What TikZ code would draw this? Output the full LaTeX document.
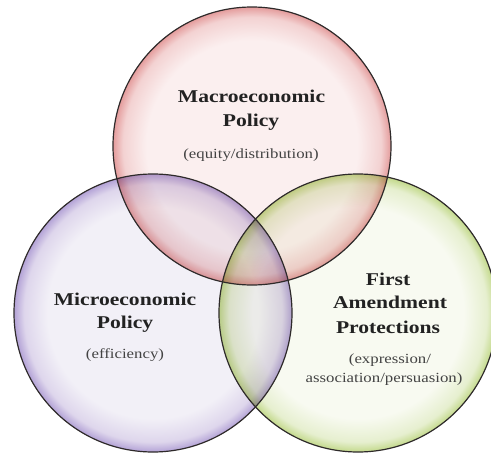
\documentclass[tikz,border=0pt]{standalone}
\usepackage{fontspec}
\setmainfont{Liberation Serif}
\newfontfamily\lblfont[FakeStretch=1.2]{Liberation Serif}
\definecolor{redin}{HTML}{FBEFEF}
\definecolor{redmid}{HTML}{F3D2D2}
\definecolor{redout}{HTML}{E49C9C}
\definecolor{purin}{HTML}{F2F0F7}
\definecolor{purmid}{HTML}{DED6EC}
\definecolor{purout}{HTML}{B3A2D6}
\definecolor{grnin}{HTML}{F8FAF1}
\definecolor{grnmid}{HTML}{E6EFCF}
\definecolor{grnout}{HTML}{C3D98B}
\definecolor{rimline}{HTML}{2E2A2A}
\definecolor{txt}{HTML}{222222}
\pgfdeclareradialshading{redglow}{\pgfpoint{0bp}{0bp}}{color(0bp)=(redin); color(19bp)=(redin); color(23.2bp)=(redmid); color(25bp)=(redout); color(50bp)=(redout)}
\pgfdeclareradialshading{purglow}{\pgfpoint{0bp}{0bp}}{color(0bp)=(purin); color(19bp)=(purin); color(23.2bp)=(purmid); color(25bp)=(purout); color(50bp)=(purout)}
\pgfdeclareradialshading{grnglow}{\pgfpoint{0bp}{0bp}}{color(0bp)=(grnin); color(19bp)=(grnin); color(23.2bp)=(grnmid); color(25bp)=(grnout); color(50bp)=(grnout)}
\begin{document}
\begin{tikzpicture}[x=1pt,y=-1pt,
  rim/.style={draw=rimline,line width=1.2pt},
  ttl/.style={anchor=base,inner sep=0pt,text=txt,font=\lblfont\bfseries\fontsize{18}{22}\selectfont},
  sub/.style={anchor=base,inner sep=0pt,text=txt!85,font=\lblfont\fontsize{14}{17}\selectfont}]
\useasboundingbox (0,0) rectangle (491,453);
\clip (0,0) rectangle (491,453);
\fill[white] (0,0) rectangle (491,453);
\begin{scope}[blend mode=multiply]
  \path[shading=redglow] (252,146) circle[radius=139];
  \path[shading=purglow] (153,313) circle[radius=139];
  \path[shading=grnglow] (358,313) circle[radius=139];
\end{scope}
\draw[rim] (252,146) circle[radius=139];
\draw[rim] (153,313) circle[radius=139];
\draw[rim] (358,313) circle[radius=139];
% top labels
\node[ttl] (mac1) at (251.5,102) {Macroeconomic};
\node[ttl] (mac2) at (251,126) {Policy};
\node[sub] (mac3) at (251,158) {(equity/distribution)};
% left labels
\node[ttl] (mic1) at (125,305) {Microeconomic};
\node[ttl] (mic2) at (125,328) {Policy};
\node[sub] (mic3) at (125,358) {(efficiency)};
% right labels
\node[ttl] (fa1) at (388,285) {First};
\node[ttl] (fa2) at (390,308) {Amendment};
\node[ttl] (fa3) at (388,333) {Protections};
\node[sub] (fa4) at (390,363) {(expression/};
\node[sub] (fa5) at (384,382) {association/persuasion)};
\end{tikzpicture}
\end{document}
